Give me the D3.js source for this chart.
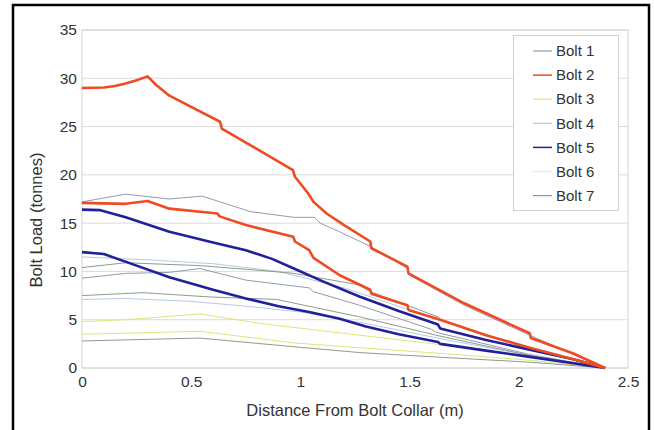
<!DOCTYPE html>
<html>
<head>
<meta charset="utf-8">
<script src="https://cdn.jsdelivr.net/npm/d3@7"></script>
<style>
  html, body { margin: 0; padding: 0; background: #fff; }
  svg { display: block; font-family: "Liberation Sans", Arial, sans-serif; }
</style>
</head>
<body>
<svg id="chart" width="654" height="430"></svg>
<script>
// Bolt load profiles along the bolt: [distance from collar (m), load (tonnes)]
const bolt1a = [[0,17.2],[0.2,18.0],[0.4,17.5],[0.55,17.8],[0.77,16.2],[0.97,15.6],[1.065,15.6],[1.09,15.0],[1.18,14.1],[1.32,12.6],[1.49,10.3],[1.5,9.6],[1.75,6.5],[2.05,3.4],[2.25,1.4],[2.395,0]];
const bolt1b = [[0,9.3],[0.2,9.8],[0.4,9.9],[0.54,10.3],[0.75,9.1],[1.04,8.3],[1.06,7.9],[1.27,6.5],[1.6,4.0],[1.62,3.7],[2.05,1.4],[2.395,0]];
const bolt2a = [[0,29.0],[0.1,29.05],[0.15,29.2],[0.2,29.45],[0.25,29.8],[0.3,30.2],[0.34,29.3],[0.4,28.2],[0.632,25.5],[0.64,24.8],[0.966,20.5],[0.975,19.8],[1.035,18.1],[1.06,17.2],[1.12,16.0],[1.2,14.8],[1.32,13.1],[1.325,12.4],[1.49,10.5],[1.495,9.8],[1.75,6.7],[2.05,3.6],[2.055,3.1],[2.25,1.5],[2.395,0]];
const bolt2b = [[0,17.1],[0.2,17.0],[0.3,17.3],[0.4,16.5],[0.62,16.0],[0.63,15.7],[0.75,14.8],[0.967,13.6],[0.975,13.1],[1.04,12.2],[1.06,11.4],[1.18,9.6],[1.32,8.1],[1.325,7.7],[1.49,6.5],[1.495,6.0],[1.64,5.0],[1.85,3.4],[2.05,2.1],[2.25,0.9],[2.395,0]];
const bolt3a = [[0,4.8],[0.2,5.0],[0.54,5.6],[0.82,4.6],[1.27,3.4],[1.65,2.4],[2.05,1.2],[2.395,0]];
const bolt3b = [[0,3.5],[0.2,3.6],[0.54,3.8],[0.97,2.6],[1.27,2.1],[1.65,1.5],[2.05,0.8],[2.395,0]];
const bolt4a = [[0,11.5],[0.3,11.2],[0.6,10.8],[0.9,10.0],[1.2,8.3],[1.5,6.0],[2.0,2.3],[2.395,0]];
const bolt4b = [[0,7.1],[0.2,7.2],[0.5,6.9],[0.75,6.4],[1.0,5.8],[1.3,4.6],[1.65,3.0],[2.05,1.3],[2.395,0]];
const bolt5a = [[0,16.4],[0.08,16.35],[0.2,15.6],[0.4,14.1],[0.6,13.0],[0.75,12.2],[0.87,11.3],[0.97,10.3],[1.1,9.0],[1.27,7.4],[1.45,5.9],[1.63,4.5],[1.64,4.1],[1.85,2.9],[2.05,1.9],[2.25,0.9],[2.395,0]];
const bolt5b = [[0,12.0],[0.1,11.8],[0.25,10.6],[0.4,9.4],[0.6,8.1],[0.75,7.2],[0.9,6.4],[1.04,5.8],[1.18,5.1],[1.3,4.3],[1.45,3.5],[1.63,2.7],[1.64,2.5],[1.85,1.8],[2.05,1.15],[2.25,0.5],[2.395,0]];
const bolt6a = [];
const bolt7a = [[0,10.4],[0.2,10.9],[0.54,10.6],[0.82,10.1],[0.97,9.8],[1.27,8.6],[1.32,7.9],[1.63,5.3],[1.64,5.0],[2.05,2.0],[2.395,0]];
const bolt7b = [[0,7.5],[0.28,7.8],[0.59,7.35],[0.89,7.1],[1.27,5.3],[1.64,3.3],[2.05,1.3],[2.395,0]];
const bolt7c = [[0,2.8],[0.54,3.1],[0.97,2.2],[1.27,1.6],[1.65,1.1],[2.05,0.6],[2.395,0]];

const boltNames = ["Bolt 1","Bolt 2","Bolt 3","Bolt 4","Bolt 5","Bolt 6","Bolt 7"];
const boltColors = ["#8f9cb2","#f04a23","#dbe67c","#b7c9e6","#20209c","#e4e9ef","#8b9c8c"];
const boltWidths = [1,2.6,1,1,2.6,1,1];
const boltLines = [[bolt1a,bolt1b],[bolt2a,bolt2b],[bolt3a,bolt3b],[bolt4a,bolt4b],[bolt5a,bolt5b],[bolt6a],[bolt7a,bolt7b,bolt7c]];

const xTicks = [0,0.5,1,1.5,2,2.5];
const yTicks = [0,5,10,15,20,25,30,35];

const svg = d3.select("#chart");
const plot = {left: 82, right: 628, top: 30, bottom: 368};

const x = d3.scaleLinear().domain([0,2.5]).range([plot.left, plot.right]);
const y = d3.scaleLinear().domain([0,35]).range([plot.bottom, plot.top]);

// outer frame
svg.append("rect")
  .attr("x", 13).attr("y", 5).attr("width", 636).attr("height", 440)
  .attr("fill", "none").attr("stroke", "#000").attr("stroke-width", 2.5);

// gridlines
svg.append("g")
  .selectAll("line").data(yTicks).join("line")
  .attr("x1", plot.left).attr("x2", plot.right)
  .attr("y1", d => y(d)).attr("y2", d => y(d))
  .attr("stroke", "#dcdcdc").attr("stroke-width", 1);

// plot frame
svg.append("rect")
  .attr("x", plot.left).attr("y", plot.top)
  .attr("width", plot.right - plot.left).attr("height", plot.bottom - plot.top)
  .attr("fill", "none").attr("stroke", "#d4d4d4").attr("stroke-width", 1);

// axes
const tickFont = 15.5;
const yAxis = svg.append("g")
  .attr("transform", `translate(${plot.left},0)`)
  .call(d3.axisLeft(y).tickValues(yTicks).tickSize(0).tickPadding(5).tickFormat(d3.format("d")));
yAxis.select(".domain").remove();
yAxis.selectAll("text").attr("font-size", tickFont).attr("fill", "#333").attr("font-family", "Liberation Sans, Arial, sans-serif");

const xAxis = svg.append("g")
  .attr("transform", `translate(0,${plot.bottom})`)
  .call(d3.axisBottom(x).tickValues(xTicks).tickSize(0).tickPadding(8).tickFormat(d => d));
xAxis.select(".domain").remove();
xAxis.selectAll("text").attr("font-size", tickFont).attr("fill", "#333").attr("font-family", "Liberation Sans, Arial, sans-serif");

// axis titles
svg.append("text")
  .attr("x", (plot.left + plot.right) / 2).attr("y", 416)
  .attr("text-anchor", "middle").attr("font-size", 16.5).attr("fill", "#333")
  .text("Distance From Bolt Collar (m)");
svg.append("text")
  .attr("transform", "translate(42,220) rotate(-90)")
  .attr("text-anchor", "middle").attr("font-size", 16.5).attr("fill", "#333")
  .text("Bolt Load (tonnes)");

// series
const line = d3.line().x(d => x(d[0])).y(d => y(d[1]));
const seriesG = svg.append("g");
// thin lines underneath, thick lines on top
const order = [5,3,2,6,0,4,1];
order.forEach(i => {
  boltLines[i].forEach(pts => {
    if (!pts.length) return;
    seriesG.append("path")
      .attr("d", line(pts))
      .attr("fill", "none")
      .attr("stroke", boltColors[i])
      .attr("stroke-width", boltWidths[i])
      .attr("stroke-linejoin", "round");
  });
});

// legend
const lg = svg.append("g");
lg.append("rect")
  .attr("x", 513.5).attr("y", 35.5).attr("width", 105).attr("height", 175)
  .attr("fill", "#fff").attr("stroke", "#d0d0d0");
boltNames.forEach((name, i) => {
  const cy = 51 + i * 24.1;
  lg.append("line")
    .attr("x1", 533).attr("x2", 552).attr("y1", cy).attr("y2", cy)
    .attr("stroke", boltColors[i]).attr("stroke-width", i === 1 || i === 4 ? 1.5 : 1.2);
  lg.append("text")
    .attr("x", 556).attr("y", cy).attr("dy", "0.35em")
    .attr("font-size", 15).attr("fill", "#333")
    .text(name);
});
</script>
</body>
</html>
